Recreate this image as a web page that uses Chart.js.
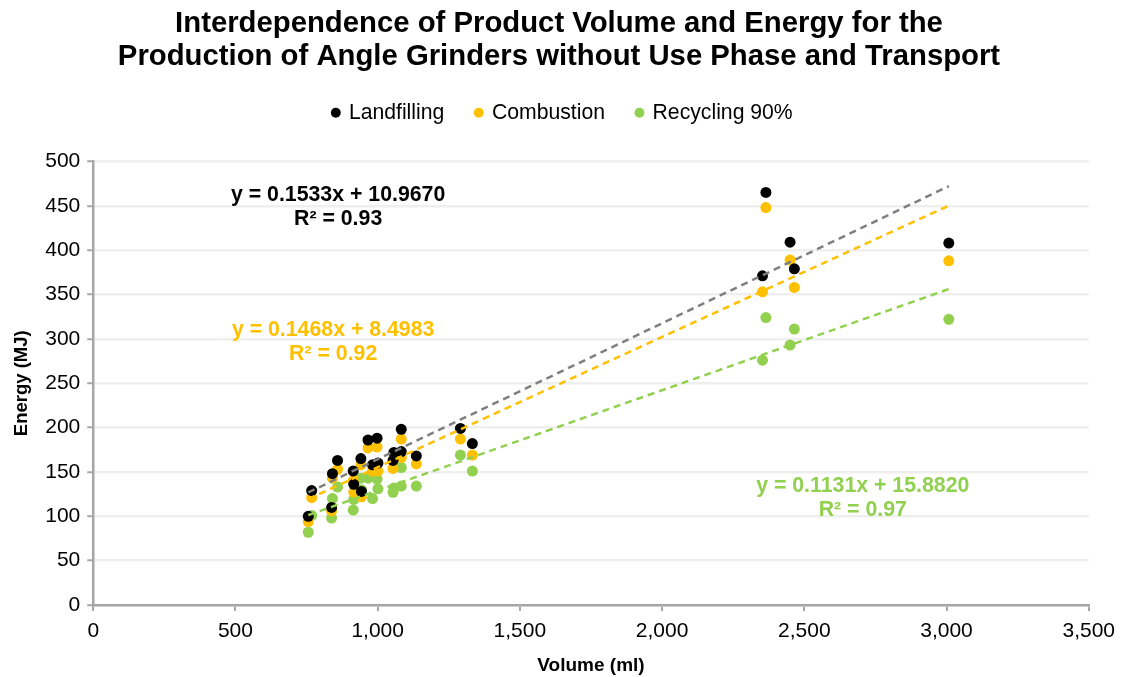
<!DOCTYPE html>
<html>
<head>
<meta charset="utf-8">
<script src="https://cdn.jsdelivr.net/npm/chart.js@4/dist/chart.umd.min.js"></script>
<style>
html,body{margin:0;padding:0;background:#fff;}
#wrap{width:1123px;height:677px;position:relative;}
</style>
</head>
<body>
<div id="wrap"><canvas id="c" width="1123" height="677"></canvas></div>
<script>
// Product volumes (ml)
const volume = [756, 768, 838, 841, 859, 914, 916, 941, 943, 966, 982, 998, 1001, 1054, 1057, 1083, 1083, 1136, 1291, 1333, 2353, 2365, 2450, 2465, 3008];
// Energy (MJ)
const landfilling = [100, 129, 110, 148, 163, 151, 136, 165, 128, 186, 158, 188, 160, 163, 172, 198, 173, 168, 199, 182, 371, 465, 409, 379, 408];
const combustion  = [94, 121, 106, 143, 153, 140, 127, 158, 122, 177, 151, 178, 151, 154, 165, 187, 166, 159, 187, 169, 353, 448, 389, 358, 388];
const recycling   = [82, 101, 98, 120, 133, 107, 119, 143, 130, 143, 120, 142, 131, 127, 132, 155, 134, 134, 169, 151, 276, 324, 293, 311, 322];
const seriesNames = ['Landfilling', 'Combustion', 'Recycling 90%'];
// Trend line coefficients (as printed on the chart)
const slopes = [0.1533, 0.1468, 0.1131];
const intercepts = [10.9670, 8.4983, 15.8820];
const r2 = ['0.93', '0.92', '0.97'];
const xTicks = [0, 500, 1000, 1500, 2000, 2500, 3000, 3500];

const ptColors = ['#000000', '#FFC000', '#92D050'];
const lineColors = ['#7F7F7F', '#FFC000', '#92D050'];
const series = [landfilling, combustion, recycling];
const xMin = Math.min(...volume), xMax = Math.max(...volume);

const datasets = [];
series.forEach((s, i) => {
  datasets.push({
    type: 'scatter',
    label: seriesNames[i],
    data: volume.map((v, k) => ({x: v, y: s[k]})),
    backgroundColor: ptColors[i],
    borderColor: ptColors[i],
    pointRadius: 5.5,
    pointHoverRadius: 5.5,
    pointBorderWidth: 0,
    order: 1
  });
});
series.forEach((s, i) => {
  datasets.push({
    type: 'line',
    label: 'trend' + i,
    data: [xMin, xMax].map(x => ({x: x, y: slopes[i] * x + intercepts[i]})),
    borderColor: lineColors[i],
    borderWidth: 2.5,
    borderDash: [7, 5],
    pointRadius: 0,
    fill: false,
    order: 0
  });
});

const annot = {
  id: 'annot',
  afterDatasetsDraw(chart) {
    const ctx = chart.ctx;
    const a = chart.chartArea;
    const W = a.right - a.left, H = a.bottom - a.top;
    const labels = [
      {fx: 0.246, fy: 0.076, color: '#000000', i: 0},
      {fx: 0.241, fy: 0.380, color: '#FFC000', i: 1},
      {fx: 0.773, fy: 0.731, color: '#92D050', i: 2}
    ];
    ctx.save();
    ctx.font = 'bold 21.3px "Liberation Sans", Arial, sans-serif';
    ctx.textAlign = 'center';
    ctx.textBaseline = 'middle';
    labels.forEach(l => {
      const cx = a.left + l.fx * W, cy = a.top + l.fy * H;
      ctx.fillStyle = l.color;
      ctx.fillText('y = ' + slopes[l.i].toFixed(4) + 'x + ' + intercepts[l.i].toFixed(4), cx, cy);
      ctx.fillText('R\u00B2 = ' + r2[l.i], cx, cy + 24);
    });
    ctx.restore();
  }
};

const legendGap = {
  id: 'legendGap',
  beforeInit(chart) {
    const lg = chart.legend;
    if (lg) {
      const orig = lg.fit;
      lg.fit = function () { orig.call(this); this.height += 28; };
    }
  },
  afterLayout(chart) {
    const t = chart.titleBlock;
    if (t) { t.left -= 4; t.right -= 4; }
  }
};

Chart.defaults.font.family = '"Liberation Sans", Arial, sans-serif';
Chart.defaults.color = '#000';

new Chart(document.getElementById('c'), {
  data: {datasets: datasets},
  options: {
    responsive: false,
    animation: false,
    layout: {padding: {left: 10, right: 7, top: 0, bottom: 0}},
    plugins: {
      title: {
        display: true,
        text: ['Interdependence of Product Volume and Energy for the', 'Production of Angle Grinders without Use Phase and Transport'],
        font: {size: 29.3, weight: 'bold', lineHeight: 1.13},
        color: '#000',
        padding: {top: 7, bottom: -3}
      },
      legend: {
        display: true,
        position: 'top',
        labels: {
          filter: item => !item.text.startsWith('trend'),
          usePointStyle: true,
          pointStyle: 'circle',
          boxWidth: 5,
          boxHeight: 7,
          padding: 32,
          font: {size: 21.2},
          color: '#000'
        }
      },
      tooltip: {enabled: false}
    },
    scales: {
      x: {
        type: 'linear',
        min: 0, max: 3500,
        afterBuildTicks: ax => { ax.ticks = xTicks.map(v => ({value: v})); },
        ticks: {
          font: {size: 21}, color: '#000', padding: 8,
          callback: v => v.toLocaleString('en-US')
        },
        grid: {drawOnChartArea: false, drawTicks: true, tickLength: 6, color: '#A6A6A6', lineWidth: 2},
        border: {display: true, color: '#A6A6A6', width: 2.5},
        title: {display: true, text: 'Volume (ml)', font: {size: 19, weight: 'bold'}, color: '#000', padding: {top: 2, bottom: 0}}
      },
      y: {
        type: 'linear',
        min: 0, max: 500,
        ticks: {stepSize: 50, font: {size: 21}, color: '#000', padding: 7},
        grid: {color: '#EFEFEF', lineWidth: 2.5, tickLength: 6, tickColor: '#A6A6A6', tickWidth: 2},
        border: {display: true, color: '#A6A6A6', width: 2.5},
        title: {display: true, text: 'Energy (MJ)', font: {size: 18.5, weight: 'bold'}, color: '#000', padding: {top: 1, bottom: 5}}
      }
    }
  },
  plugins: [annot, legendGap]
});
</script>
</body>
</html>
